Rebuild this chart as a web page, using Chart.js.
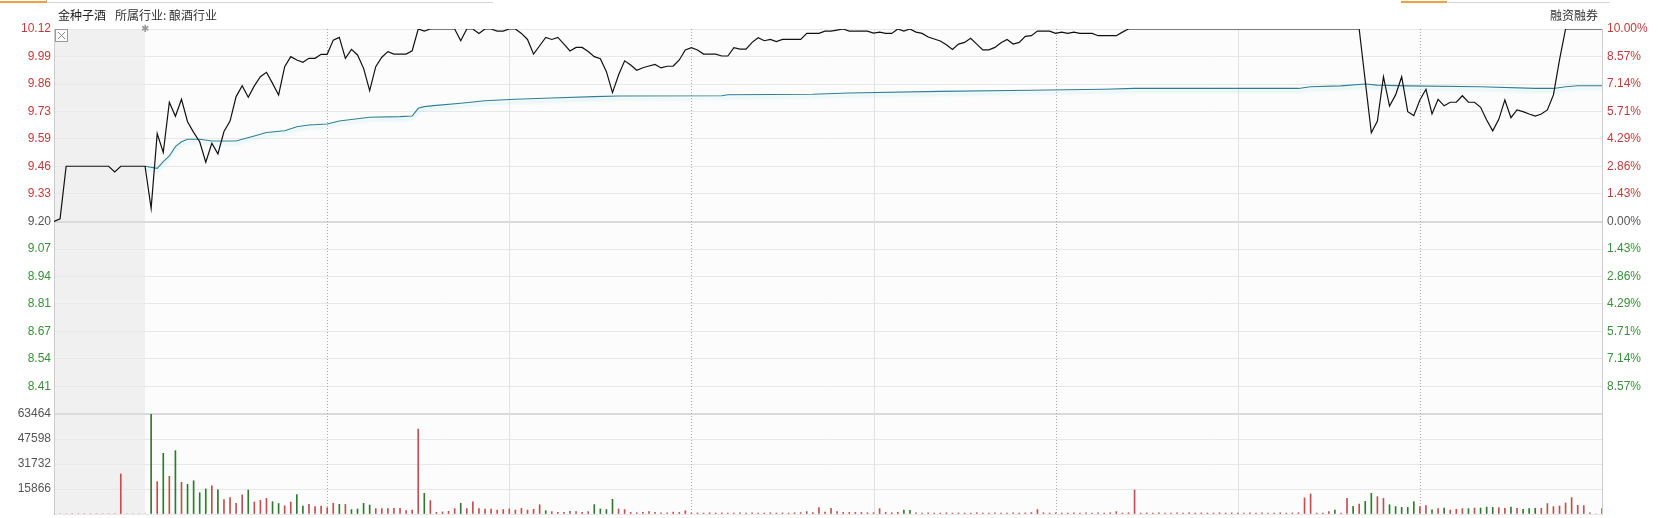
<!DOCTYPE html>
<html><head><meta charset="utf-8">
<script src="https://cdn.jsdelivr.net/npm/chart.js@4.4.1/dist/chart.umd.min.js"></script>
<style>
html,body{margin:0;padding:0;background:#fff;}
#wrap{position:relative;width:1661px;height:518px;overflow:hidden;}
#c{position:absolute;left:0;top:0;}
.t{position:absolute;font-size:12px;line-height:14px;color:#333;white-space:nowrap;font-family:"Noto Sans CJK SC","Noto Sans",sans-serif;}
.bar{position:absolute;height:0;}
</style></head><body>
<div id="wrap">
<canvas id="c" width="1661" height="518"></canvas>
<div class="bar" style="left:0;top:1px;width:46px;border-top:2px solid #f0a040;"></div>
<div class="bar" style="left:46px;top:0;width:0;height:3px;border-left:1px solid #e0a060;"></div>
<div class="bar" style="left:47px;top:2px;width:446px;border-top:1px solid #d6d6d6;"></div>
<div class="bar" style="left:1401px;top:1px;width:46px;border-top:2px solid #f0a040;"></div>
<div class="bar" style="left:1447px;top:2px;width:163px;border-top:1px solid #d6d6d6;"></div>
<div class="t" style="left:58px;top:8px;color:#222;">金种子酒</div>
<div class="t" style="left:115px;top:8px;color:#333;">所属行业: 酿酒行业</div>
<div class="t" style="left:1550px;top:8px;color:#333;">融资融券</div>
<div class="t" style="left:141px;top:22px;font-size:10px;color:#999;font-family:'DejaVu Sans';">✱</div>
<svg style="position:absolute;left:55px;top:29px" width="14" height="14"><rect x="0.5" y="0.5" width="12" height="12" fill="#fafafa" stroke="#999"/><line x1="3" y1="3" x2="10" y2="10" stroke="#888"/><line x1="10" y1="3" x2="3" y2="10" stroke="#888"/></svg>
</div>
<script>
// ---- data ----
const prevClose = 9.20;
const priceTickLabels = ['10.12','9.99','9.86','9.73','9.59','9.46','9.33','9.20','9.07','8.94','8.81','8.67','8.54','8.41'];
const pctTickLabels = ['10.00%','8.57%','7.14%','5.71%','4.29%','2.86%','1.43%','0.00%','1.43%','2.86%','4.29%','5.71%','7.14%','8.57%'];
const volTickLabels = ['63464','47598','31732','15866'];
const volTickValues = [63464,47598,31732,15866,0];
const sessionMinutes = 255;     // 9:15 auction + 240 trading minutes
const openMinute = 15;          // 9:30
const solidTimeLines = [75,135,195];
const dottedTimeLines = [45,105,165,225];

// price line vertices (minute index, price)
const priceMin = [0,1,2,9,10,11,15,16,17,18,19,20,21,22,23,24,25,26,27,28,29,30,31,32,33,34,35,36,37,38,39,40,41,42,43,44,45,46,47,48,49,50,51,52,53,54,55,56,58,59,60,61,62,66,67,68,69,70,71,72,73,74,75,76,77,78,79,80,81,82,83,84,85,86,87,88,89,90,91,92,93,94,95,96,97,98,99,100,101,102,103,104,105,106,107,109,110,111,112,113,114,115,116,117,118,119,120,123,124,126,127,128,129,130,131,134,135,136,137,138,139,140,141,142,143,144,146,147,148,149,150,151,152,153,154,155,156,157,158,159,160,161,162,164,165,166,167,168,169,171,172,175,176,177,215,217,218,219,220,221,222,223,224,225,226,227,228,229,230,231,232,233,234,235,236,237,238,239,240,241,242,243,244,245,246,247,248,249,255];
const priceVal = [9.20,9.213,9.464,9.464,9.437,9.464,9.464,9.263,9.62,9.53,9.77,9.703,9.784,9.677,9.626,9.581,9.483,9.574,9.523,9.63,9.68,9.797,9.849,9.794,9.848,9.892,9.913,9.86,9.805,9.94,9.988,9.972,9.961,9.98,9.98,9.999,9.999,10.067,10.08,9.98,10.023,9.996,9.932,9.825,9.94,9.985,10.012,10.0,10.0,10.016,10.12,10.11,10.12,10.12,10.064,10.12,10.12,10.099,10.12,10.12,10.11,10.11,10.12,10.12,10.099,10.07,10.0,10.04,10.08,10.07,10.08,10.048,10.015,10.032,10.032,10.012,9.988,9.978,9.916,9.816,9.9,9.968,9.948,9.923,9.935,9.943,9.951,9.934,9.942,9.943,9.972,10.02,10.031,10.02,10.0,10.0,9.991,9.991,10.031,10.024,10.024,10.056,10.078,10.064,10.07,10.06,10.07,10.07,10.099,10.099,10.11,10.11,10.115,10.12,10.11,10.11,10.10,10.105,10.099,10.099,10.12,10.11,10.12,10.105,10.099,10.082,10.063,10.045,10.022,10.048,10.056,10.076,10.048,10.02,10.02,10.032,10.054,10.07,10.048,10.056,10.085,10.088,10.11,10.11,10.099,10.105,10.099,10.105,10.099,10.099,10.088,10.088,10.105,10.12,10.12,9.624,9.68,9.892,9.752,9.805,9.892,9.725,9.706,9.781,9.832,9.714,9.784,9.753,9.77,9.77,9.801,9.77,9.77,9.746,9.685,9.633,9.688,9.781,9.696,9.733,9.725,9.714,9.704,9.714,9.733,9.805,9.972,10.12,10.12];

// average price line vertices
const avgMin = [15,17,18,19,20,21,22,24,26,30,31,33,35,38,40,42,45,47,52,57,59,60,61,63,67,71,76,82,89,93,110,111,125,131,146,161,173,178,205,207,212,216,218,223,235,244,247,249,251,255];
const avgVal = [9.464,9.454,9.486,9.513,9.558,9.581,9.593,9.593,9.585,9.585,9.593,9.609,9.625,9.634,9.653,9.661,9.666,9.68,9.698,9.701,9.704,9.741,9.749,9.755,9.765,9.777,9.784,9.79,9.797,9.80,9.801,9.806,9.808,9.814,9.822,9.827,9.832,9.836,9.836,9.844,9.848,9.857,9.852,9.848,9.844,9.836,9.836,9.844,9.849,9.849];

// volume per minute, index 0..255
const volumes = [
  0,0,0,0,0,0,0,0,0,0,0,25400,0,0,0,0,                                   // 0-15
  63464,20500,38500,23900,40200,20100,18800,21100,13500,15900,            // 16-25
  17800,15400,9100,10400,6800,12100,15200,7600,8700,9900,                 // 26-35
  7800,6600,5100,7600,12300,5100,6100,4700,5100,4000,                     // 36-45
  6800,6100,6100,2800,3200,6800,5700,3400,3400,3400,                      // 46-55
  3600,3600,2100,2500,53900,13100,8500,1100,1300,1700,                    // 56-65
  3400,6800,3400,7800,3400,3200,3200,2500,2800,3200,                      // 66-75
  2500,3600,2500,3000,5900,2100,1500,1100,1100,1700,                      // 76-85
  1500,1000,1500,6000,3200,2800,9300,3200,2800,1000,                      // 86-95
  800,1000,1500,1000,800,800,1200,1000,2100,                              // 96-104
  600,700,600,800,600,700,600,600,800,600,700,600,600,800,600,700,600,800,900, // 105-123
  1500,900,4000,1200,3600,1500,1000,1000,1000,1000,800,800,3400,1000,800,1100,2500,2300,800, // 124-142
  600,700,600,600,800,600,700,600,600,800,600,600,700,600,600,800,600,700,900, // 143-161
  2800,800,600,700,600,600,800,600,700,                                   // 162-170
  600,700,600,800,1500,600,800,15200,                                     // 171-178
  600,700,600,800,600,600,700,600,800,600,700,600,600,800,600,700,600,600,800,600,700,600,600,800,600,700,800, // 179-205
  10200,12700,600,600,1500,2500,600,9900,4900,6300,                       // 206-215
  8000,13100,11000,9900,5900,4700,4200,4200,7800,4700,                    // 216-225
  5300,2700,3400,3800,2500,3000,3400,3400,3800,3800,                      // 226-235
  4400,4200,4000,3600,4400,3600,3000,3400,3600,3600,                      // 236-245
  6600,4700,5100,7000,10400,5500,5300,800,0,3400                          // 246-255
];
// minutes whose volume bar is green (price down)
const volDownMin = [16,18,20,22,23,24,25,27,32,36,37,40,41,47,49,50,51,52,61,67,81,89,90,91,92,140,141,211,214,216,217,220,221,222,223,224,227,229,233,235,236,237,240,242,243,244];

// ---- styles ----
const RED = '#c23b3b', GREEN = '#3b8f3b', GRAY = '#555555';
const FONT = {family:'"Liberation Sans", Arial, sans-serif', size:12};

const decoPlugin = {
  id:'deco',
  beforeDraw(chart){
    const {ctx, chartArea:a, scales:{x}} = chart;
    ctx.save();
    ctx.fillStyle = '#fcfcfc';
    ctx.fillRect(a.left, a.top, a.right-a.left, a.bottom-a.top);
    const x0 = x.getPixelForValue(0), x1 = x.getPixelForValue(openMinute);
    ctx.fillStyle = '#f0f0f0';
    ctx.fillRect(x0, a.top, x1-x0, a.bottom-a.top);
    ctx.restore();
  },
  beforeDatasetsDraw(chart){
    const {ctx, chartArea:a, scales:{x}} = chart;
    ctx.save();
    ctx.lineWidth = 1;
    ctx.strokeStyle = '#e2e2e2';
    solidTimeLines.forEach(m=>{
      const px = Math.round(x.getPixelForValue(m))+0.5;
      ctx.beginPath(); ctx.moveTo(px,a.top); ctx.lineTo(px,a.bottom); ctx.stroke();
    });
    ctx.strokeStyle = '#a8a8a8';
    ctx.setLineDash([1,2]);
    dottedTimeLines.forEach(m=>{
      const px = Math.round(x.getPixelForValue(m))+0.5;
      ctx.beginPath(); ctx.moveTo(px,a.top); ctx.lineTo(px,a.bottom); ctx.stroke();
    });
    ctx.restore();
  },
  beforeDatasetDraw(chart, args){
    if (args.index === 1) {
      const ctx = chart.ctx;
      ctx.save();
      ctx.shadowColor = 'rgba(170,232,240,0.7)';
      ctx.shadowOffsetY = 3;
      ctx.shadowBlur = 3;
    }
  },
  afterDatasetDraw(chart, args){
    if (args.index === 1) chart.ctx.restore();
  }
};

const fitW = w => s => { s.width = w; s.paddingTop = 0; s.paddingBottom = 0; };

new Chart(document.getElementById('c'), {
  type:'line',
  data:{
    datasets:[
      {type:'line', data: priceMin.map((m,i)=>({x:m, y:priceVal[i]})), yAxisID:'y',
       borderColor:'#111', borderWidth:1.2, pointRadius:0, tension:0, fill:false},
      {type:'line', data: avgMin.map((m,i)=>({x:m, y:avgVal[i]})), yAxisID:'y',
       borderColor:'#2e7f94', borderWidth:1.1, pointRadius:0, tension:0, fill:false},
      {type:'bar', data: volumes.map((v,m)=>({x:m, y:v})), yAxisID:'yv',
       backgroundColor: volumes.map((v,m)=> volDownMin.includes(m) ? '#2f7a2f' : '#c05050'),
       barThickness:1, borderWidth:0}
    ]
  },
  options:{
    responsive:false, animation:false, maintainAspectRatio:false,
    layout:{padding:{left:0,right:0,top:29,bottom:4}},
    plugins:{legend:{display:false}, tooltip:{enabled:false}},
    scales:{
      x:{type:'linear', min:0, max:sessionMinutes, display:false, offset:false},
      y:{type:'linear', position:'left', stack:'L', stackWeight:385, weight:1,
         min: prevClose*0.9, max: prevClose*1.1,
         afterBuildTicks(s){ s.ticks = priceTickLabels.map((_,k)=>({value: prevClose*(1+(7-k)/70)})).concat([{value: prevClose*0.9}]); },
         afterFit: fitW(54),
         ticks:{autoSkip:false, padding:3, font:FONT,
                color:c=> c.index<7 ? RED : (c.index===7 ? GRAY : GREEN),
                callback:(v,i)=> priceTickLabels[i] || ''},
         grid:{drawTicks:false, color:c=> (c.index===7||c.index===14) ? '#dadada' : '#e8e8e8',
               lineWidth:c=> (c.index===7||c.index===14) ? 2 : 1},
         border:{display:true, color:'#cccccc'}},
      yv:{type:'linear', position:'left', stack:'L', stackWeight:100, weight:0,
         min:0, max:volTickValues[0],
         afterBuildTicks(s){ s.ticks = volTickValues.map(v=>({value:v})); },
         afterFit: fitW(54),
         ticks:{autoSkip:false, padding:3, font:FONT, color:GRAY,
                callback:(v,i)=> volTickLabels[i] || ''},
         grid:{drawTicks:false, color:c=> c.index===0 ? '#dadada' : '#e8e8e8', lineWidth:c=> c.index===0 ? 2 : 1},
         border:{display:true, color:'#cccccc'}},
      yp:{type:'linear', position:'right', stack:'R', stackWeight:385, weight:0,
         min:-10, max:10,
         afterBuildTicks(s){ s.ticks = pctTickLabels.map((_,k)=>({value: 10 - k*20/14})); },
         afterFit: fitW(59),
         ticks:{autoSkip:false, padding:5, font:FONT,
                color:c=> c.index<7 ? RED : (c.index===7 ? GRAY : GREEN),
                callback:(v,i)=> pctTickLabels[i] || ''},
         grid:{display:false, drawTicks:false},
         border:{display:true, color:'#cccccc'}},
      yv2:{type:'linear', position:'right', stack:'R', stackWeight:100, weight:1,
         min:0, max:1, afterFit: fitW(59),
         ticks:{display:false}, grid:{display:false, drawTicks:false},
         border:{display:true, color:'#cccccc'}}
    }
  },
  plugins:[decoPlugin]
});
</script>
</body></html>
